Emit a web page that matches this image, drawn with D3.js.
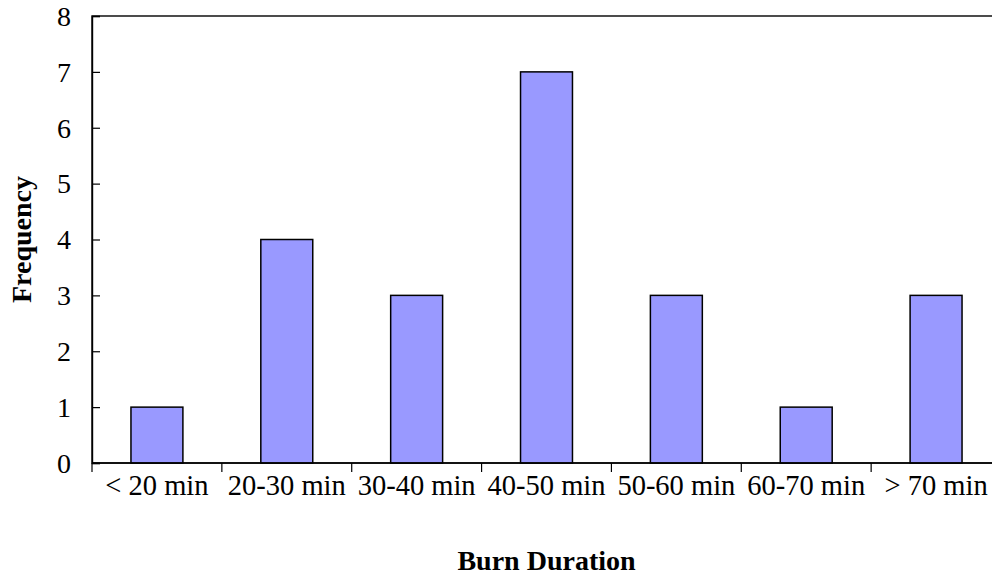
<!DOCTYPE html>
<html>
<head>
<meta charset="utf-8">
<script src="https://cdn.jsdelivr.net/npm/d3@7"></script>
<style>
  html, body { margin: 0; padding: 0; background: #fff; }
  svg { display: block; }
  text { font-family: "Liberation Serif", "Times New Roman", serif; fill: #000; }
</style>
</head>
<body>
<svg id="chart" width="992" height="576"></svg>
<script>
// Burn duration histogram data
const categories = ["< 20 min", "20-30 min", "30-40 min", "40-50 min", "50-60 min", "60-70 min", "> 70 min"];
const frequency = [1, 4, 3, 7, 3, 1, 3];
const yTicks = [0, 1, 2, 3, 4, 5, 6, 7, 8];

const svg = d3.select("#chart");
const plot = { left: 92, top: 16, right: 1001, bottom: 463 };

const x = d3.scaleBand()
  .domain(categories)
  .range([plot.left, plot.right])
  .paddingInner(0.6)
  .paddingOuter(0.3);

const xBand = d3.scaleBand()
  .domain(categories)
  .range([plot.left, plot.right]);

const y = d3.scaleLinear().domain([0, 8]).range([plot.bottom, plot.top]);

// plot frame
svg.append("rect")
  .attr("x", plot.left).attr("y", plot.top)
  .attr("width", plot.right - plot.left).attr("height", plot.bottom - plot.top)
  .attr("fill", "none").attr("stroke", "#000").attr("stroke-width", 1.4);

// bars
svg.append("g").selectAll("rect")
  .data(categories)
  .join("rect")
  .attr("x", d => x(d))
  .attr("y", (d, i) => y(frequency[i]))
  .attr("width", x.bandwidth())
  .attr("height", (d, i) => y(0) - y(frequency[i]))
  .attr("fill", "#9999ff")
  .attr("stroke", "#000")
  .attr("stroke-width", 1.5);

// y axis: ticks point inward
const yAxis = svg.append("g")
  .attr("transform", `translate(${plot.left},0)`)
  .call(d3.axisRight(y).tickValues(yTicks).tickSize(8).tickFormat(""));
yAxis.select(".domain").attr("stroke", "#000").attr("stroke-width", 1.4);
yAxis.selectAll(".tick line").attr("stroke", "#000").attr("stroke-width", 1.2);

svg.append("g").selectAll("text")
  .data(yTicks)
  .join("text")
  .attr("x", 71)
  .attr("y", d => y(d))
  .attr("dy", "0.35em")
  .attr("text-anchor", "end")
  .attr("font-size", 28)
  .text(d => d);

// x axis: category dividers below the baseline
const xAxis = svg.append("g")
  .attr("transform", `translate(0,${plot.bottom})`);
xAxis.append("path")
  .attr("d", `M${plot.left},0H${plot.right}`)
  .attr("stroke", "#000").attr("stroke-width", 1.4);
const dividers = categories.map(c => xBand(c)).concat([plot.right]);
xAxis.selectAll("line")
  .data(dividers)
  .join("line")
  .attr("x1", d => d).attr("x2", d => d)
  .attr("y1", 0).attr("y2", 9)
  .attr("stroke", "#000").attr("stroke-width", 1.2);

svg.append("g").selectAll("text")
  .data(categories)
  .join("text")
  .attr("x", d => xBand(d) + xBand.bandwidth() / 2)
  .attr("y", 495)
  .attr("text-anchor", "middle")
  .attr("font-size", 28.5)
  .text(d => d);

// axis titles
svg.append("text")
  .attr("x", (plot.left + plot.right) / 2)
  .attr("y", 570)
  .attr("text-anchor", "middle")
  .attr("font-size", 28)
  .attr("font-weight", "bold")
  .text("Burn Duration");

svg.append("text")
  .attr("transform", `translate(31,${(plot.top + plot.bottom) / 2}) rotate(-90)`)
  .attr("text-anchor", "middle")
  .attr("font-size", 28)
  .attr("font-weight", "bold")
  .text("Frequency");
</script>
</body>
</html>
